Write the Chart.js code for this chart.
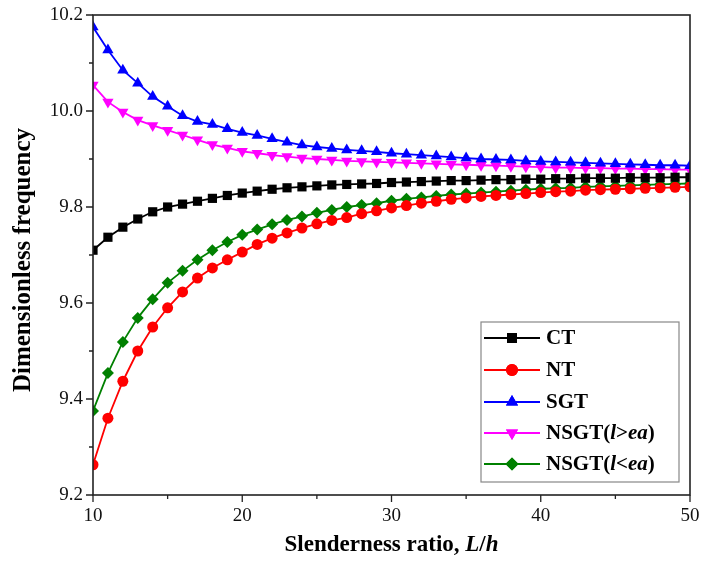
<!DOCTYPE html>
<html>
<head>
<meta charset="utf-8">
<script src="https://cdn.jsdelivr.net/npm/chart.js@4/dist/chart.umd.min.js"></script>
<style>
  html, body { margin: 0; padding: 0; background: #fff; }
  #wrap { width: 702px; height: 561px; }
</style>
</head>
<body>
<div id="wrap"><canvas id="freqChart" width="702" height="561"></canvas></div>
<script>
// slenderness ratio L/h
const slenderness = [10,11,12,13,14,15,16,17,18,19,20,21,22,23,24,25,26,27,28,29,30,
                     31,32,33,34,35,36,37,38,39,40,41,42,43,44,45,46,47,48,49,50];

const ct = [9.710,9.737,9.758,9.775,9.790,9.800,9.806,9.812,9.818,9.824,9.829,9.833,9.837,9.840,9.842,9.844,9.846,9.847,9.848,9.849,9.851,
            9.852,9.853,9.854,9.855,9.855,9.856,9.857,9.857,9.858,9.858,9.859,9.859,9.860,9.860,9.860,9.861,9.861,9.861,9.862,9.862];
const nt = [9.263,9.360,9.437,9.500,9.550,9.590,9.623,9.652,9.673,9.690,9.706,9.722,9.735,9.746,9.756,9.765,9.772,9.778,9.786,9.792,9.798,
            9.803,9.808,9.812,9.816,9.819,9.822,9.824,9.826,9.828,9.830,9.832,9.833,9.835,9.836,9.837,9.838,9.839,9.840,9.841,9.842];
const sgt = [10.175,10.127,10.085,10.058,10.030,10.010,9.990,9.978,9.972,9.963,9.955,9.949,9.942,9.935,9.929,9.925,9.922,9.919,9.917,9.915,9.912,
             9.910,9.908,9.906,9.904,9.902,9.900,9.899,9.898,9.896,9.895,9.894,9.893,9.892,9.891,9.890,9.889,9.888,9.887,9.887,9.886];
const nsgtGreater = [10.054,10.019,9.998,9.981,9.970,9.960,9.950,9.940,9.930,9.923,9.916,9.912,9.908,9.905,9.902,9.900,9.898,9.896,9.895,9.894,9.893,
                     9.892,9.891,9.890,9.889,9.888,9.887,9.886,9.885,9.884,9.883,9.882,9.882,9.881,9.881,9.880,9.880,9.879,9.879,9.878,9.878];
const nsgtLess = [9.375,9.454,9.519,9.569,9.608,9.642,9.667,9.690,9.710,9.727,9.742,9.753,9.764,9.773,9.780,9.788,9.794,9.800,9.804,9.808,9.813,
                  9.817,9.820,9.823,9.826,9.828,9.830,9.832,9.834,9.836,9.838,9.839,9.840,9.842,9.843,9.844,9.845,9.846,9.847,9.848,9.849];

const seriesNames = ['CT', 'NT', 'SGT', 'NSGT(l>ea)', 'NSGT(l<ea)'];
const xTicks = [10, 20, 30, 40, 50];
const yTicks = [9.2, 9.4, 9.6, 9.8, 10.0, 10.2];

const SERIF = '"Liberation Serif", "Times New Roman", serif';

function series(label, values, color, style, radius, rotation) {
    return {
        label: label,
        data: slenderness.map((x, i) => ({ x: x, y: values[i] })),
        borderColor: color,
        backgroundColor: color,
        borderWidth: 1.8,
        pointStyle: style,
        pointRadius: radius,
        pointRotation: rotation || 0,
        pointBorderWidth: 0,
        pointBackgroundColor: color,
        tension: 0
    };
}

// frame, minor ticks, legend box and titles
const extras = {
    id: 'extras',
    afterDraw(chart) {
        const ctx = chart.ctx;
        const a = chart.chartArea;
        const xs = chart.scales.x, ys = chart.scales.y;
        ctx.save();
        ctx.strokeStyle = '#222';
        ctx.lineWidth = 1.6;
        ctx.strokeRect(a.left, a.top, a.right - a.left, a.bottom - a.top);

        ctx.lineWidth = 1.3;
        ctx.beginPath();
        for (let v = 10; v <= 50; v += 5) {
            const px = xs.getPixelForValue(v);
            const len = v % 10 === 0 ? 7 : 4;
            ctx.moveTo(px, a.bottom); ctx.lineTo(px, a.bottom + len);
        }
        for (let k = 0; k <= 10; k++) {
            const v = 9.2 + k * 0.1;
            const py = ys.getPixelForValue(v);
            const len = k % 2 === 0 ? 7 : 4;
            ctx.moveTo(a.left, py); ctx.lineTo(a.left - len, py);
        }
        ctx.stroke();

        // legend
        const bx = 481, by = 322, bw = 198, bh = 160;
        ctx.fillStyle = '#fff';
        ctx.fillRect(bx, by, bw, bh);
        ctx.strokeStyle = '#888';
        ctx.lineWidth = 1.2;
        ctx.strokeRect(bx, by, bw, bh);
        const rows = [338, 370, 402, 433, 464];
        chart.data.datasets.forEach((ds, i) => {
            const y = rows[i];
            ctx.strokeStyle = ds.borderColor;
            ctx.lineWidth = 2;
            ctx.beginPath();
            ctx.moveTo(484, y); ctx.lineTo(540, y);
            ctx.stroke();
            ctx.fillStyle = ds.borderColor;
            Chart.helpers.drawPoint(ctx, {
                pointStyle: ds.pointStyle, radius: ds.pointRadius + 0.5,
                rotation: ds.pointRotation, borderWidth: 0
            }, 512, y);
            ctx.fill();
            // label text with italic parts
            ctx.fillStyle = '#000';
            ctx.textBaseline = 'middle';
            ctx.textAlign = 'left';
            let tx = 546;
            const name = seriesNames[i];
            const parts = name.startsWith('NSGT')
                ? [['NSGT(', false], ['l', true], [name.includes('>') ? '>' : '<', false], ['ea', true], [')', false]]
                : [[name, false]];
            parts.forEach(p => {
                ctx.font = (p[1] ? 'italic ' : '') + 'bold 21px ' + SERIF;
                ctx.fillText(p[0], tx, y + 1);
                tx += ctx.measureText(p[0]).width;
            });
        });

        // x title with italic L/h
        const xParts = [['Slenderness ratio, ', false], ['L', true], ['/', false], ['h', true]];
        let total = 0;
        xParts.forEach(p => {
            ctx.font = (p[1] ? 'italic ' : '') + 'bold 23px ' + SERIF;
            total += ctx.measureText(p[0]).width;
        });
        let tx = (a.left + a.right) / 2 - total / 2;
        ctx.fillStyle = '#000';
        ctx.textBaseline = 'middle';
        xParts.forEach(p => {
            ctx.font = (p[1] ? 'italic ' : '') + 'bold 23px ' + SERIF;
            ctx.fillText(p[0], tx, 545);
            tx += ctx.measureText(p[0]).width;
        });

        // y title
        ctx.translate(24, 260);
        ctx.rotate(-Math.PI / 2);
        ctx.textAlign = 'center';
        ctx.font = 'bold 25px ' + SERIF;
        ctx.fillText('Dimensionless frequency', 0, 0);
        ctx.restore();
    }
};

document.addEventListener('DOMContentLoaded', function() {
    const ctx = document.getElementById('freqChart').getContext('2d');
    const freqChart = new Chart(ctx, {
        type: 'line',
        data: {
            datasets: [
                series(seriesNames[0], ct, '#000000', 'rect', 6.5),
                series(seriesNames[1], nt, '#ff0000', 'circle', 5.5),
                series(seriesNames[2], sgt, '#0000ff', 'triangle', 6.5),
                series(seriesNames[3], nsgtGreater, '#ff00ff', 'triangle', 6.5, 180),
                series(seriesNames[4], nsgtLess, '#008000', 'rectRot', 6)
            ]
        },
        options: {
            responsive: false,
            animation: false,
            layout: { padding: { top: 15, right: 12, left: 0, bottom: 0 } },
            plugins: {
                legend: { display: false },
                tooltip: { enabled: false }
            },
            scales: {
                x: {
                    type: 'linear',
                    min: 10,
                    max: 50,
                    afterBuildTicks: scale => { scale.ticks = xTicks.map(v => ({ value: v })); },
                    afterFit: scale => {
                        scale.height = 66;
                        scale.paddingLeft = 0;
                        scale.paddingRight = 0;
                    },
                    grid: { display: false, drawTicks: false },
                    border: { display: false },
                    ticks: {
                        padding: 10,
                        color: '#111',
                        font: { family: SERIF, size: 19 },
                        maxRotation: 0
                    }
                },
                y: {
                    type: 'linear',
                    min: 9.2,
                    max: 10.2,
                    afterBuildTicks: scale => { scale.ticks = yTicks.map(v => ({ value: v })); },
                    afterFit: scale => {
                        scale.width = 93;
                        scale.paddingTop = 0;
                        scale.paddingBottom = 0;
                    },
                    grid: { display: false, drawTicks: false },
                    border: { display: false },
                    ticks: {
                        padding: 10,
                        color: '#111',
                        font: { family: SERIF, size: 19 },
                        callback: v => v.toFixed(1)
                    }
                }
            }
        },
        plugins: [extras]
    });
});
</script>
</body>
</html>
